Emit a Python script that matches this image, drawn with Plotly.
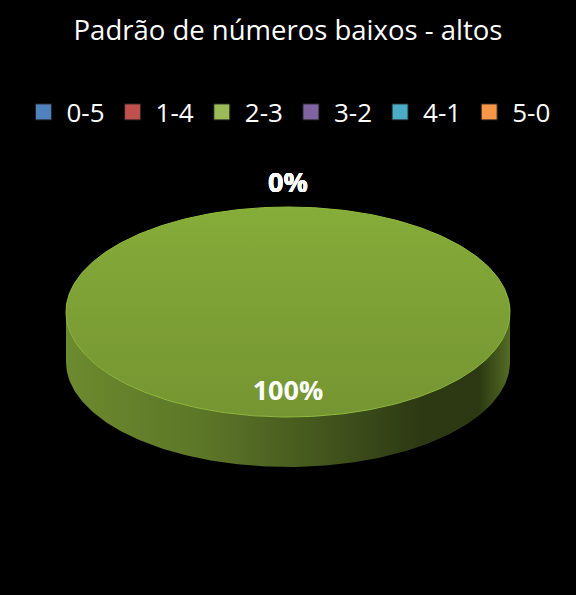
import colorsys
import numpy as np
import plotly.graph_objects as go

# dados do gráfico
categorias = ["0-5", "1-4", "2-3", "3-2", "4-1", "5-0"]
valores = [0, 0, 1, 0, 0, 0]
cores = ["#4F81BD", "#C0504D", "#9BBB59", "#8064A2", "#4BACC6", "#F79646"]
titulo = "Padrão de números baixos - altos"

# geometria da pizza 3D (pixels da janela)
W, H = 576, 595
cx, cy = 288, 312
rx, ry = 222, 105
prof = 50


# tons de cada fatia: topo (claro -> escuro) e lateral (esquerda -> direita)
def tons(cor):
    r, g, b = (int(cor[i:i + 2], 16) / 255 for i in (1, 3, 5))
    h, s, v = colorsys.rgb_to_hsv(r, g, b)
    s = min(1, s * 1.27)

    def hx(fv):
        rr, gg, bb = colorsys.hsv_to_rgb(h, s, min(1, v * fv))
        return "#%02x%02x%02x" % (int(rr * 255), int(gg * 255), int(bb * 255))

    topo = [[0, hx(0.92)], [0.5, hx(0.86)], [1, hx(0.80)]]
    lado = [[0, hx(0.74)], [0.3, hx(0.64)], [0.55, hx(0.48)],
            [0.8, hx(0.31)], [0.93, hx(0.30)], [1, hx(0.58)]]
    return topo, lado, hx(1.0)


def ponto(theta, dy=0):
    return cx + rx * np.sin(theta), cy - ry * np.cos(theta) + dy


fig = go.Figure()

total = sum(valores)
fracs = [v / total for v in valores]
inicio = np.concatenate([[0], np.cumsum(fracs)[:-1]]) * 2 * np.pi

rotulos_x, rotulos_y, rotulos_t = [], [], []
for cat, f, a0, cor in zip(categorias, fracs, inicio, cores):
    a1 = a0 + f * 2 * np.pi
    topo, lado, borda = tons(cor)
    if f > 0:
        # lateral visível (metade da frente)
        s0, s1 = max(a0, np.pi / 2), min(a1, 3 * np.pi / 2)
        if s1 > s0:
            t = np.linspace(s0, s1, 200)
            xs, ys = ponto(t)
            xb, yb = ponto(t[::-1], prof)
            fig.add_trace(go.Scatter(
                x=np.concatenate([xs, xb]), y=np.concatenate([ys, yb]),
                mode="lines", fill="toself", line=dict(width=0),
                fillgradient=dict(type="horizontal", colorscale=lado),
                hoverinfo="skip", showlegend=False))
        # face de cima
        t = np.linspace(a0, a1, 400)
        xs, ys = ponto(t)
        if f < 1:
            xs = np.concatenate([[cx], xs, [cx]])
            ys = np.concatenate([[cy], ys, [cy]])
        fig.add_trace(go.Scatter(
            x=xs, y=ys, mode="lines", fill="toself",
            line=dict(width=1, color=borda),
            fillgradient=dict(type="vertical", colorscale=topo,
                              start=cy - ry, stop=cy + ry),
            hoverinfo="skip", showlegend=False))
    # posição do rótulo
    meio = (a0 + a1) / 2
    fator = 0.77 if f > 0 else 1.21
    rotulos_x.append(cx + fator * rx * np.sin(meio))
    rotulos_y.append(cy - fator * ry * np.cos(meio))
    rotulos_t.append(f"{round(f * 100)}%")

fig.add_trace(go.Scatter(
    x=rotulos_x, y=rotulos_y, text=rotulos_t, mode="text",
    textfont=dict(family="Open Sans", size=27, color="white", weight="bold"),
    hoverinfo="skip", showlegend=False))

# legenda
for cat, cor in zip(categorias, cores):
    fig.add_trace(go.Scatter(
        x=[None], y=[None], mode="markers", name=cat,
        marker=dict(symbol="square", size=16, color=cor,
                    line=dict(width=1, color="#222222"))))

fig.update_layout(
    width=W, height=H,
    margin=dict(l=0, r=0, t=0, b=0),
    paper_bgcolor="black", plot_bgcolor="black",
    font=dict(family="Open Sans", color="white"),
    title=dict(text=titulo, x=0.5, xanchor="center", y=1 - 30 / H,
               yanchor="middle", font=dict(size=27.5, color="white")),
    legend=dict(orientation="h", x=0.5, xanchor="center",
                y=1 - 112 / H, yanchor="middle",
                font=dict(size=26, color="white"),
                itemwidth=36, bgcolor="rgba(0,0,0,0)"),
    xaxis=dict(range=[0, W], visible=False, fixedrange=True),
    yaxis=dict(range=[H, 0], visible=False, fixedrange=True),
)

fig.write_html(
    "out.html",
    config={"displayModeBar": False},
    post_script="document.body.style.margin='0';"
                "document.body.style.background='black';"
                "document.body.style.overflow='hidden';")
